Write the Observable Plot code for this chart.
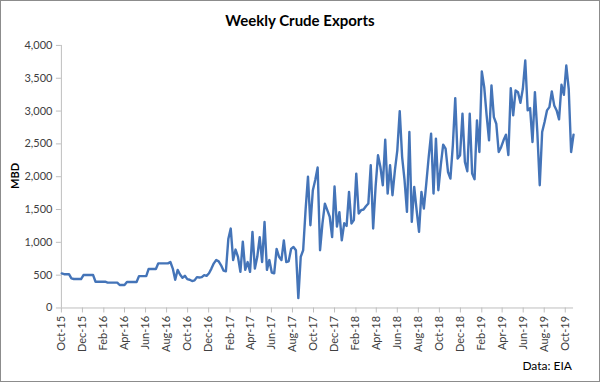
<!DOCTYPE html>
<html><head><meta charset="utf-8">
<script src="https://cdn.jsdelivr.net/npm/d3@7"></script>
<script src="https://cdn.jsdelivr.net/npm/@observablehq/plot@0.6"></script>
<style>
body{margin:0;background:#fff;}
#wrap{position:relative;width:600px;height:382px;box-sizing:border-box;border:1px solid #8c8c8c;font-family:Lato,"Open Sans",sans-serif;overflow:hidden;background:#fff;}
#title{position:absolute;top:10px;left:-1px;width:600px;text-align:center;font-weight:bold;font-size:15px;color:#000;}
#chart{position:absolute;left:-1px;top:-1px;}
#ylab{position:absolute;left:13px;top:175px;transform:translate(-50%,-50%) rotate(-90deg);font-weight:bold;font-size:11px;color:#000;}
#caption{position:absolute;right:27px;top:357px;font-size:12px;color:#000;}
</style></head><body>
<div id="wrap">
<div id="title">Weekly Crude Exports</div>
<div id="chart"></div>
<div id="ylab">MBD</div>
<div id="caption">Data: EIA</div>
</div>
<script>
// first weekly observation (week ending), then one value per week (thousand barrels/day)
const startDate = [2015, 9, 2];
const exportsMBD = [
  527, 515, 515, 515, 450, 441, 441, 441, 441, 502,
  502, 502, 502, 502, 400, 400, 400, 400, 400, 387,
  387, 387, 387, 387, 350, 350, 350, 395, 395, 395,
  395, 395, 486, 486, 486, 486, 595, 595, 595, 595,
  680, 680, 680, 680, 680, 700, 600, 430, 580, 510,
  460, 490, 440, 430, 410, 420, 470, 465, 470, 500,
  490, 530, 600, 680, 730, 710, 650, 570, 560, 1050,
  1210, 730, 890, 780, 550, 1010, 580, 700, 550, 1160,
  600, 780, 1080, 700, 1310, 580, 730, 540, 527, 900,
  780, 730, 1030, 700, 710, 900, 930, 880, 150, 780,
  880, 1490, 2000, 1260, 1790, 1950, 2140, 880, 1290, 1590,
  1490, 1390, 1080, 1850, 1240, 1460, 1030, 1290, 1250, 1768,
  1287, 1338, 2047, 1439, 1490, 1500, 1550, 1591, 2174, 1211,
  1844, 2326, 2148, 1870, 2564, 1743, 2174, 1718, 2098, 2402,
  2999, 2300, 1946, 1464, 2680, 1312, 1844, 1490, 1160, 1768,
  1515, 1895, 2300, 2655, 1743, 2580, 1794, 2174, 2488, 2427,
  2072, 1971, 2478, 3197, 2275, 2326, 2960, 2224, 2082, 2960,
  2047, 1961, 2858, 2376, 3602, 3364, 2934, 2554, 3390, 2908,
  2807, 2376, 2450, 2554, 2640, 2330, 3349, 2934, 3314, 3288,
  3126, 3339, 3770, 3010, 3045, 2528, 3288, 2680, 1870, 2680,
  2832, 3010, 3060, 3298, 3086, 3010, 2873, 3400, 3248, 3694,
  3339, 2376, 2640
];
const yTicks = [0, 500, 1000, 1500, 2000, 2500, 3000, 3500, 4000];
const xTickDates = [
  "2015-10-01","2015-12-01","2016-02-01","2016-04-01","2016-06-01","2016-08-01",
  "2016-10-01","2016-12-01","2017-02-01","2017-04-01","2017-06-01","2017-08-01",
  "2017-10-01","2017-12-01","2018-02-01","2018-04-01","2018-06-01","2018-08-01",
  "2018-10-01","2018-12-01","2019-02-01","2019-04-01","2019-06-01","2019-08-01",
  "2019-10-01"
];

const data = exportsMBD.map((v, i) => ({
  date: new Date(Date.UTC(startDate[0], startDate[1], startDate[2] + 7 * i)),
  value: v
}));
const xTicks = xTickDates.map(s => new Date(s + "T00:00:00Z"));
const x0 = xTicks[0];
const x1 = data[data.length - 1].date;

const chart = Plot.plot({
  width: 600,
  height: 382,
  marginLeft: 61,
  marginRight: 26,
  marginTop: 45,
  marginBottom: 74,
  style: {fontFamily: "Lato, 'Open Sans', sans-serif", fontSize: "11px", color: "#595959", background: "transparent", overflow: "visible"},
  x: {type: "utc", domain: [x0, x1]},
  y: {domain: [0, 4000]},
  marks: [
    Plot.axisY({ticks: yTicks, tickFormat: d3.format(","), tickSize: 5, tickPadding: 4, stroke: "#bfbfbf", fill: "#404040", label: null}),
    Plot.axisX({ticks: xTicks, tickFormat: d3.utcFormat("%b-%y"), tickRotate: -90, tickSize: 5, tickPadding: 3, stroke: "#bfbfbf", fill: "#404040", label: null}),
    Plot.ruleX([x0], {stroke: "#bfbfbf"}),
    Plot.ruleY([0], {stroke: "#bfbfbf"}),
    Plot.line(data, {x: "date", y: "value", stroke: "#4474b8", strokeWidth: 2.4, strokeLinejoin: "round"})
  ]
});
document.getElementById("chart").appendChild(chart);
</script>
</body></html>
